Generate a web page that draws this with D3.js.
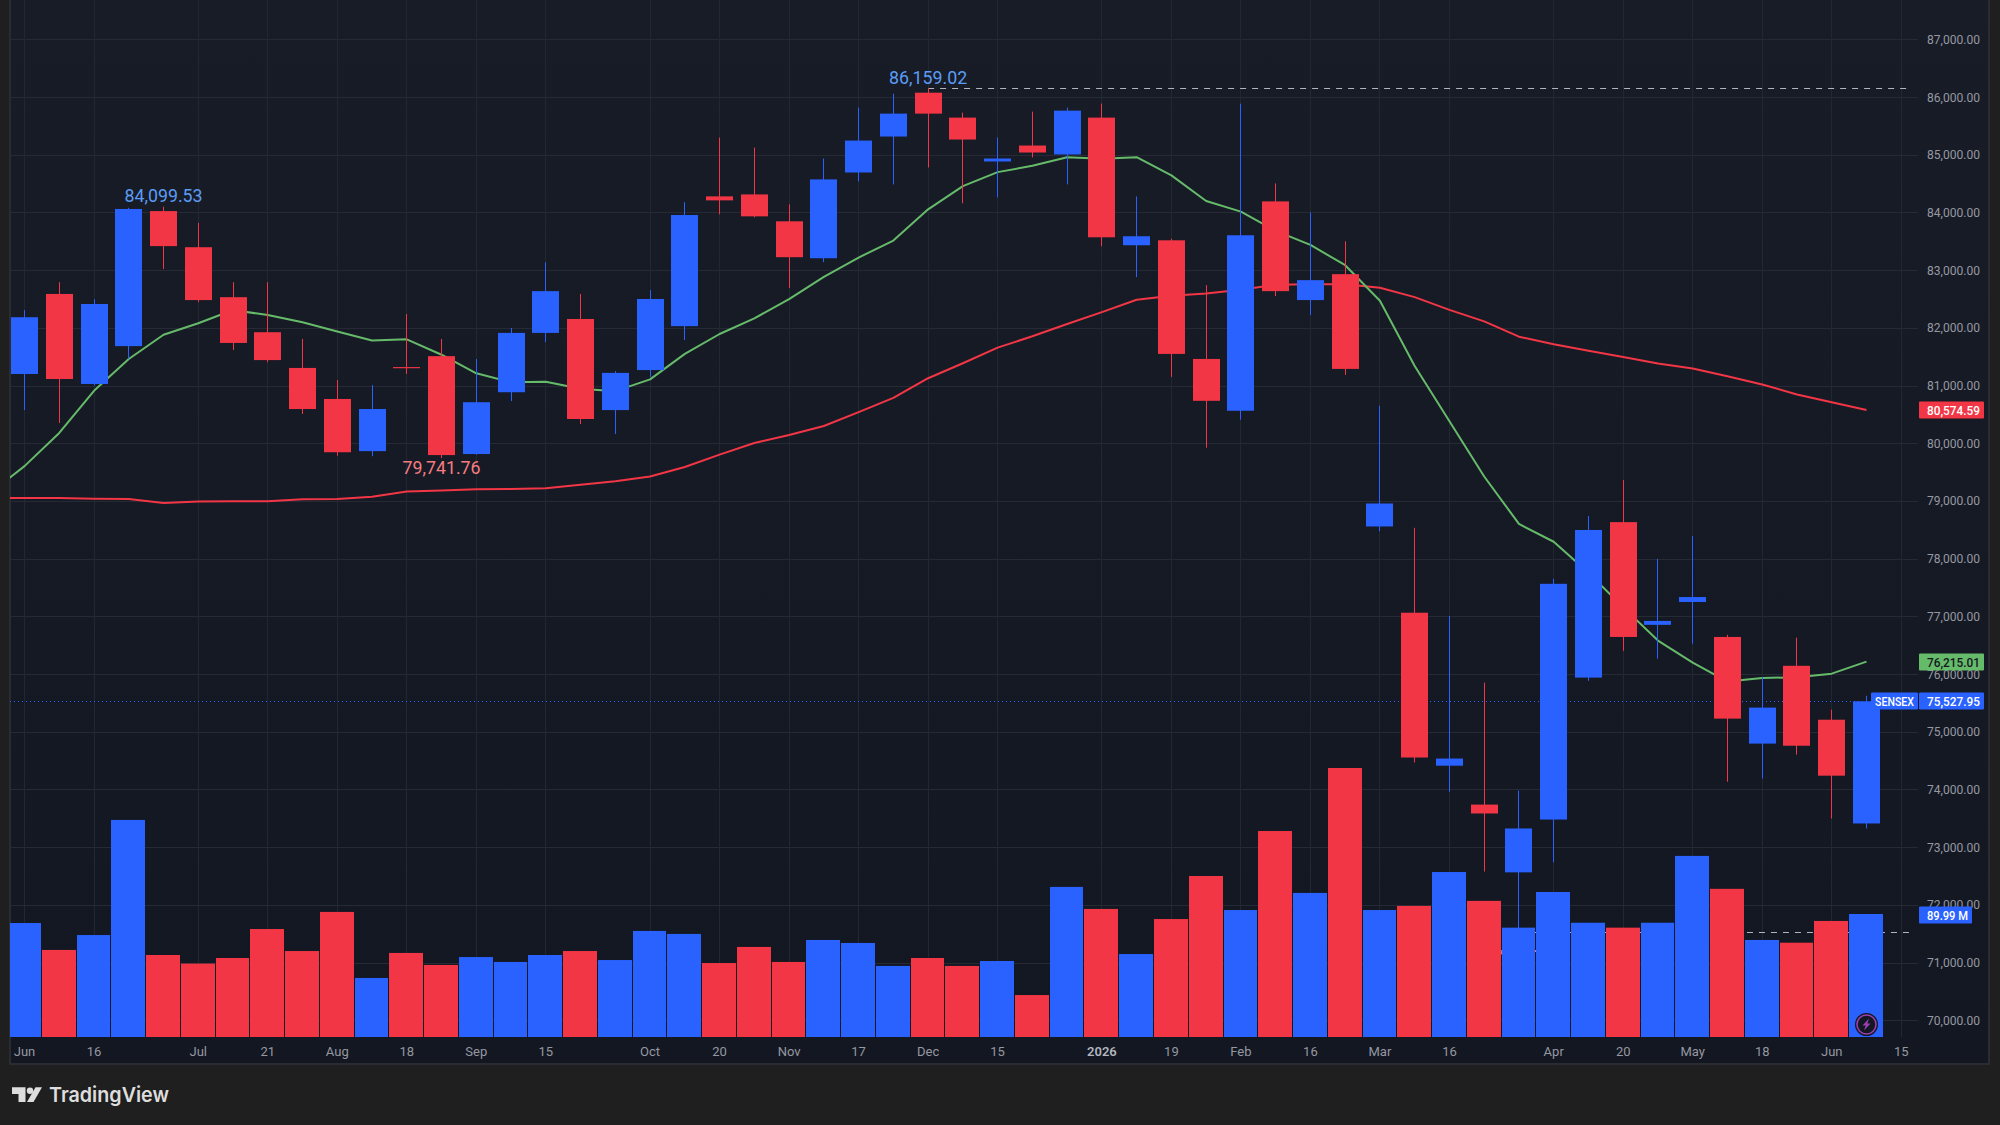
<!DOCTYPE html>
<html>
<head>
<meta charset="utf-8">
<style>
html,body{margin:0;padding:0;background:#1f1f1f;}
svg{display:block;}
text{font-family:Roboto,"Liberation Sans",sans-serif;}
</style>
<script src="https://cdn.jsdelivr.net/npm/d3@7"></script>
</head>
<body>
<svg id="chart" width="2000" height="1125"></svg>
<script>
// Weekly SENSEX candles, oldest first
const opens  = [81200,82587,81027,81683,84023,83397,82531,81924,81305,80767,79863,81320,81509,79813,80884,81912,82153,80575,81268,82029,
  84278,84312,83846,83206,84692,85315,86075,85643,84883,85159,85004,85643,83431,83517,81461,80563,84191,82481,82930,78558,
  77063,74412,73738,72564,73479,75939,78633,76853,77249,76643,74795,76143,75209,73411];
const highs  = [82308,82791,82494,84080,84099.53,83818,82791,82791,81807,81095,81008,82240,81807,81460,81998,83137,82587,81249,82655,84177,
  85297,85124,84140,84934,85816,86058,86159.02,85729,85297,85747,85816,85885,84278,83546,82740,85885,84502,84001,83500,80649,
  78534,77008,75852,73980,77650,78738,79362,77997,78392,76680,75945,76631,75382,75623];
const lows   = [80575,80352,81000,81460,83020,82444,81615,81404,80507,79782,79776,81200,79741.76,79800,80730,81751,80333,80160,81150,81788,
  83967,83915,82688,83137,84537,84485,84779,84157,84260,84952,84485,83414,82878,81150,79923,80407,82550,82221,81185,78472,
  74468,73961,72577,71533,72737,75883,76402,76266,76526,74134,74190,74604,73497,73324];
const closes = [82184,81113,82413,84060,83416,82481,81738,81441,80593,79844,80593,81300,79795,80711,81912,82636,80420,81219,82500,83955,
  84209,83932,83224,84572,85245,85712,85712,85263,84934,85038,85764,83569,83587,81548,80735,83604,82636,82826,81288,78956,
  74554,74536,73584,73324,77564,78497,76643,76921,77335,75228,75419,74758,74239,75527.95];
const volumes = [83.4,63.7,74.6,158.8,60,53.7,57.8,79,62.9,91.5,43.2,61.5,52.7,58.5,54.9,60,62.9,56.3,77.6,75.4,
  54.1,65.9,54.9,71,68.8,52,57.8,52,55.6,30.7,109.8,93.7,60.7,86.3,117.8,92.9,150.7,105.4,196.8,92.9,
  95.9,120.7,99.6,80,106.1,83.6,80,83.6,132.5,108.4,71,69,84.9,89.99];

// Moving averages; the first entry belongs to the week before the visible range
const maFast = [79133,79603,80179,80909,81460,81881,82079,82308,82221,82098,81937,81782,81800,81534,81212,81058,81064,80946,80903,81107,81548,
  81893,82164,82498,82884,83218,83512,84053,84456,84698,84808,84957,84929,84957,84641,84197,84013,83679,83437,83085,82469,
  81338,80382,79424,78602,78293,77755,77156,76581,76198,75871,75932,75945,76007,76215.01];
const maSlow = [79052,79052,79050,79040,79033,78965,78990,78995,78996,79030,79033,79071,79163,79182,79201,79207,79219,79281,79343,79423,79589,
  79802,80004,80142,80298,80540,80787,81127,81386,81657,81853,82066,82273,82486,82556,82596,82659,82746,82757,82757,82694,
  82532,82311,82112,81847,81714,81603,81493,81382,81294,81161,81019,80845,80710,80574.59];

const timeTicks = [[0,"Jun"],[2,"16"],[5,"Jul"],[7,"21"],[9,"Aug"],[11,"18"],[13,"Sep"],[15,"15"],[18,"Oct"],[20,"20"],[22,"Nov"],[24,"17"],
  [26,"Dec"],[28,"15"],[31,"2026"],[33,"19"],[35,"Feb"],[37,"16"],[39,"Mar"],[41,"16"],[44,"Apr"],[46,"20"],[48,"May"],[50,"18"],[52,"Jun"],[54,"15"]];
const priceTicks = d3.range(70000, 88000, 1000);

const UP = "#2962ff", DOWN = "#f23645", FAST = "#66bb6a", AXIS_TEXT = "#9598a1";
const panel = {left:10, right:1989, bottom:1064, plotRight:1918, plotBottom:1037};

const x = d3.scaleLinear().domain([0,53]).range([24.5,1866.5]);
const y = d3.scaleLinear().domain([70000,87000]).range([1020.3,39.3]);
const vol = d3.scaleLinear().domain([0,89.99]).range([panel.plotBottom,914]);
const fmt = d3.format(",.2f");
const crisp = v => Math.round(v)+0.5;
const col = i => Math.floor(x(i));
// Volume bars fill their column and leave a one pixel gap
const volLeft = i => Math.floor(x(i)-16.9);

const svg = d3.select("#chart");
const defs = svg.append("defs");
const grad = defs.append("linearGradient").attr("id","bg").attr("x1",0).attr("x2",0).attr("y1",0).attr("y2",1);
grad.append("stop").attr("offset",0).attr("stop-color","#181c27");
grad.append("stop").attr("offset",1).attr("stop-color","#131722");
defs.append("clipPath").attr("id","plot").append("rect")
  .attr("x",panel.left).attr("y",0).attr("width",panel.plotRight-panel.left).attr("height",panel.plotBottom);

// Panel
svg.append("rect").attr("width",2000).attr("height",1125).attr("fill","#1f1f1f");
svg.append("rect").attr("x",panel.left).attr("y",-2).attr("width",panel.right-panel.left).attr("height",panel.bottom+2)
  .attr("fill","url(#bg)").attr("stroke","#2a2c31").attr("stroke-width",2);

const plot = svg.append("g").attr("clip-path","url(#plot)");

// Grid
plot.append("g").selectAll("line").data(priceTicks).join("line")
  .attr("x1",panel.left).attr("x2",panel.plotRight)
  .attr("y1",d=>crisp(y(d))).attr("y2",d=>crisp(y(d))).attr("stroke","#262a35");
plot.append("g").selectAll("line").data(timeTicks).join("line")
  .attr("x1",d=>col(d[0])+0.5).attr("x2",d=>col(d[0])+0.5)
  .attr("y1",0).attr("y2",panel.plotBottom).attr("stroke","#232732");

// Last price line
plot.append("line").attr("x1",panel.left).attr("x2",panel.plotRight)
  .attr("y1",crisp(y(closes[53]))).attr("y2",crisp(y(closes[53])))
  .attr("stroke",UP).attr("stroke-dasharray","1 3");

// Moving averages
const maLine = d3.line().x((d,i)=>x(i-1)).y(d=>y(d));
plot.append("path").datum(maSlow).attr("d",maLine).attr("fill","none").attr("stroke",DOWN).attr("stroke-width",2).attr("stroke-linejoin","round");
plot.append("path").datum(maFast).attr("d",maLine).attr("fill","none").attr("stroke",FAST).attr("stroke-width",2).attr("stroke-linejoin","round");

// High and low guides
const hiIdx = d3.maxIndex(highs), loIdx = d3.minIndex(lows);
[[hiIdx,highs[hiIdx]],[loIdx,lows[loIdx]]].forEach(([i,v])=>{
  plot.append("line").attr("x1",x(i)).attr("x2",1912)
    .attr("y1",crisp(y(v))).attr("y2",crisp(y(v)))
    .attr("stroke","#b2b5be").attr("stroke-dasharray","6 6");
});

// Candles
const candleColor = i => closes[i] >= opens[i] ? UP : DOWN;
const candles = plot.append("g").selectAll("g").data(d3.range(opens.length)).join("g");
candles.append("line")
  .attr("x1",i=>col(i)+0.5).attr("x2",i=>col(i)+0.5)
  .attr("y1",i=>y(highs[i])).attr("y2",i=>y(lows[i]))
  .attr("stroke",candleColor);
candles.append("rect")
  .attr("x",i=>col(i)-13).attr("width",27)
  .attr("y",i=>y(Math.max(opens[i],closes[i])))
  .attr("height",i=>Math.max(1,Math.abs(y(opens[i])-y(closes[i]))))
  .attr("fill",candleColor);

// High and low captions
const caption = (parent,i,v,dy,color)=>parent.append("text").attr("x",x(i)).attr("y",y(v)+dy)
  .attr("text-anchor","middle").attr("fill",color).attr("font-size",17.5)
  .attr("textLength",78).attr("lengthAdjust","spacingAndGlyphs").text(fmt(v));
// The year's low sits under the volume bars
caption(plot,loIdx,lows[loIdx],20,"#f77c80");

// Volume
plot.append("g").selectAll("rect").data(d3.range(volumes.length)).join("rect")
  .attr("x",volLeft).attr("width",i=>volLeft(i+1)-volLeft(i)-1)
  .attr("y",i=>vol(volumes[i])).attr("height",i=>panel.plotBottom-vol(volumes[i]))
  .attr("fill",candleColor);

caption(svg,4,highs[4],-5,"#5b9cf6");
caption(svg,26,highs[26],-4,"#5b9cf6");
caption(svg,12,lows[12],16,"#f77c80");

// Price axis
svg.append("g").selectAll("text").data(priceTicks).join("text")
  .attr("x",1927).attr("y",d=>y(d)+4.5).attr("fill",AXIS_TEXT).attr("font-size",13.5)
  .attr("textLength",53).attr("lengthAdjust","spacingAndGlyphs").text(d=>fmt(d));

// Time axis
svg.append("g").selectAll("text").data(timeTicks).join("text")
  .attr("x",d=>x(d[0])).attr("y",1055.5).attr("text-anchor","middle")
  .attr("fill",d=>d[1]==="2026"?"#b2b5be":AXIS_TEXT)
  .attr("font-size",13).attr("font-weight",d=>d[1]==="2026"?600:400).text(d=>d[1]);

// Price tags
const tag = (v,bg,fg,w,label)=>{
  const g = svg.append("g").attr("transform",`translate(1919,${Math.round(y(v))})`);
  g.append("rect").attr("x",0).attr("y",-8.5).attr("width",w).attr("height",17).attr("rx",1).attr("fill",bg);
  g.append("text").attr("x",8).attr("y",4.5).attr("fill",fg).attr("font-size",13.5).attr("font-weight",500)
    .attr("textLength",53).attr("lengthAdjust","spacingAndGlyphs").text(label);
};
tag(maSlow[54],DOWN,"#ffffff",65,fmt(maSlow[54]));
tag(maFast[54],FAST,"#131722",65,fmt(maFast[54]));
tag(closes[53],UP,"#ffffff",65,fmt(closes[53]));

const nameTag = svg.append("g").attr("transform",`translate(1871,${Math.round(y(closes[53]))})`);
nameTag.append("rect").attr("y",-8.5).attr("width",47).attr("height",17).attr("rx",1).attr("fill",UP);
nameTag.append("text").attr("x",23.5).attr("y",4.5).attr("text-anchor","middle").attr("fill","#fff").attr("font-size",13)
  .attr("font-weight",500).attr("textLength",39).attr("lengthAdjust","spacingAndGlyphs").text("SENSEX");

const volTag = svg.append("g").attr("transform",`translate(1919,${Math.round(vol(89.99)+0.5)})`);
volTag.append("rect").attr("y",-8.5).attr("width",53).attr("height",17).attr("rx",1).attr("fill",UP);
volTag.append("text").attr("x",8).attr("y",4.5).attr("fill","#fff").attr("font-size",13.5).attr("font-weight",500)
  .attr("textLength",41).attr("lengthAdjust","spacingAndGlyphs").text("89.99 M");

// Lightning badge on the latest bar
const badge = svg.append("g").attr("transform","translate(1866.5,1024.5)");
badge.append("circle").attr("r",11.5).attr("fill","#131722");
badge.append("circle").attr("r",9.5).attr("fill","#131722").attr("stroke","#9c3fb0").attr("stroke-width",1.6);
badge.append("path").attr("d","M2.5,-6 L-4,1 L-0.8,1 L-2.5,6 L4,-1 L0.8,-1 Z").attr("fill","#9c3fb0");

// Brand mark
const brand = svg.append("g").attr("fill","#dddddd");
brand.append("path").attr("d","M12,1087.3 H25.5 V1102 H18.5 V1094 H12 Z");
brand.append("circle").attr("cx",30).attr("cy",1090.7).attr("r",3.2);
brand.append("path").attr("d","M35.5,1087.3 H42 L33.5,1102 H27 Z");
brand.append("text").attr("x",49).attr("y",1102).attr("font-size",20.6).attr("font-weight",600)
  .attr("textLength",120).attr("lengthAdjust","spacingAndGlyphs")
  .style("font-family","Inter,Roboto,sans-serif").text("TradingView");
</script>
</body>
</html>
